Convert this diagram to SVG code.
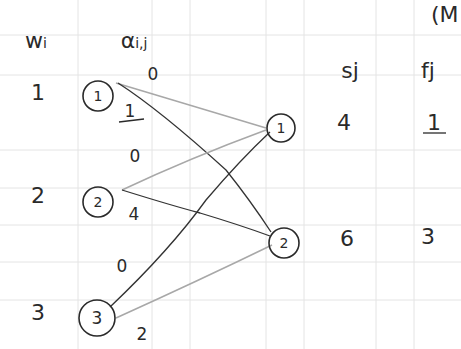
<svg xmlns="http://www.w3.org/2000/svg" width="461" height="349" viewBox="0 0 461 349">
<style>
.grid line{stroke:#e4e4e4;stroke-width:1}
.node circle{fill:none;stroke:#2a2a2a;stroke-width:1.6}
.node text,.lbl{font-family:"DejaVu Sans",sans-serif;fill:#2a2a2a;text-anchor:middle}
.node text{font-size:14px}
.lbl{font-size:22px}
.el{font-size:17px}
.ul{stroke:#2a2a2a;stroke-width:1.3}
.dark{stroke:#333;stroke-width:1.3;fill:none}
.light{stroke:#a8a8a8;stroke-width:1.5;fill:none}
</style>
<rect width="461" height="349" fill="#fff"/>
<g class="grid">
<line x1="78" y1="0" x2="78" y2="349"/><line x1="152" y1="0" x2="152" y2="349"/><line x1="190" y1="0" x2="190" y2="349"/><line x1="266" y1="0" x2="266" y2="349"/><line x1="304" y1="0" x2="304" y2="349"/><line x1="376" y1="0" x2="376" y2="349"/><line x1="414" y1="0" x2="414" y2="349"/>
<line x1="0" y1="35" x2="461" y2="35"/><line x1="0" y1="75" x2="461" y2="75"/><line x1="0" y1="150" x2="461" y2="150"/><line x1="0" y1="188" x2="461" y2="188"/><line x1="0" y1="225" x2="461" y2="225"/><line x1="0" y1="262" x2="461" y2="262"/><line x1="0" y1="300" x2="461" y2="300"/>
</g>
<g id="connectors">
<path class="light" d="M116,83 Q190,105 266,128"/>
<path class="dark" d="M118,83 Q160,110 226,170 Q250,200 271,232"/>
<path class="light" d="M122,190 Q190,158 266,130"/>
<path class="dark" d="M122,190 Q170,205 200,213 Q240,225 270,236"/>
<path class="dark" d="M110,307 Q170,250 206,200 Q240,160 270,132"/>
<path class="light" d="M116,318 Q200,280 272,245"/>
</g>
<g id="n1" class="node"><circle cx="98" cy="96" r="15"/><text x="98" y="101">1</text></g>
<g id="n2" class="node"><circle cx="98" cy="202" r="15"/><text x="98" y="207">2</text></g>
<g id="n3" class="node"><circle cx="97" cy="318" r="18"/><text x="97" y="324" style="font-size:17px">3</text></g>
<g id="m1" class="node"><circle cx="281" cy="128" r="14"/><text x="281" y="133">1</text></g>
<g id="m2" class="node"><circle cx="284" cy="243" r="15"/><text x="284" y="243" dy="5">2</text></g>
<g id="labels">
<text class="lbl" x="36" y="48">w<tspan font-size="14">i</tspan></text>
<text class="lbl" x="134" y="48">α<tspan font-size="14">i,j</tspan></text>
<text class="lbl" x="350" y="78">sj</text>
<text class="lbl" x="428" y="78">fj</text>
<text class="lbl" x="431" y="22" style="text-anchor:start">(M</text>
<text class="lbl" x="38" y="100">1</text>
<text class="lbl" x="38" y="203">2</text>
<text class="lbl" x="38" y="320">3</text>
<text class="lbl" x="344" y="130">4</text>
<text class="lbl" x="434" y="130">1</text>
<line class="ul" x1="423" y1="133" x2="446" y2="133"/>
<text class="lbl el" x="130" y="117">1</text>
<line class="ul" x1="119" y1="122" x2="144" y2="119"/>
<text class="lbl" x="347" y="246">6</text>
<text class="lbl" x="428" y="244">3</text>
<text class="lbl el" x="153" y="80">0</text>
<text class="lbl el" x="135" y="162">0</text>
<text class="lbl el" x="134" y="220">4</text>
<text class="lbl el" x="122" y="272">0</text>
<text class="lbl el" x="142" y="340">2</text>
</g>
</svg>
